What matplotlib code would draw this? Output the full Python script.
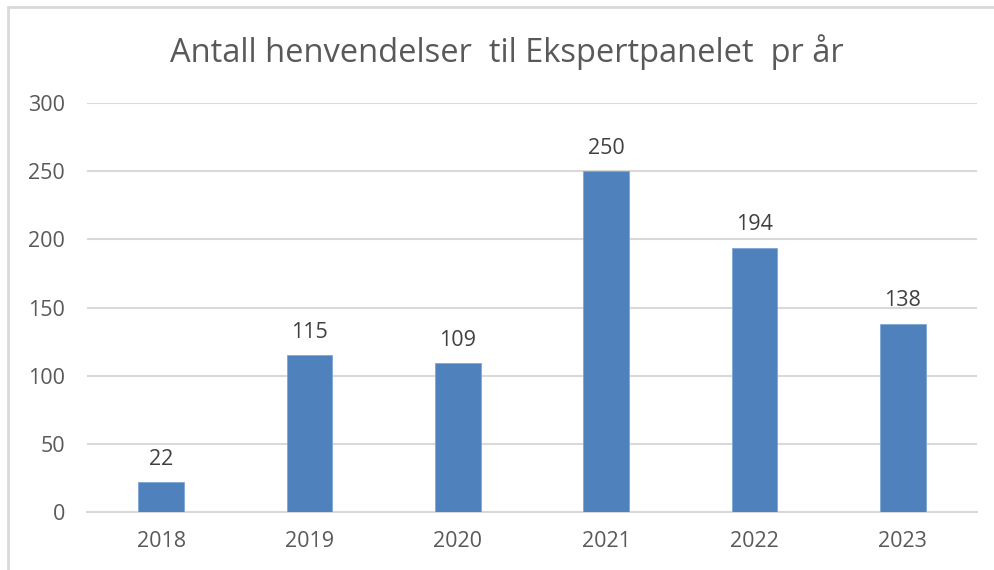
import matplotlib.pyplot as plt
from matplotlib.patches import Rectangle

years = ['2018', '2019', '2020', '2021', '2022', '2023']
counts = [22, 115, 109, 250, 194, 138]
y_ticks = [0, 50, 100, 150, 200, 250, 300]

plt.rcParams['font.family'] = ['Open Sans', 'DejaVu Sans']

fig = plt.figure(figsize=(9.95, 5.70), dpi=100)
# plot area in pixels: x 87..977, y 103..512
ax = fig.add_axes([87/995, 1 - 512/570, 890/995, 409/570])

x = range(len(years))
bars = ax.bar(x, counts, width=0.31, color='#4f81bd', edgecolor='#7ea6d8', linewidth=0.6, zorder=3)
ax.bar_label(bars, labels=[str(v) for v in counts], padding=9, fontsize=15.5, color='#404040')

ax.set_xlim(-0.5, len(years) - 0.5)
ax.set_ylim(0, 300)
ax.set_yticks(y_ticks)
ax.set_xticks(list(x))
ax.set_xticklabels(years)
ax.grid(axis='y', color='#d9d9d9', linewidth=1.5, zorder=0)
for s in ['top', 'right', 'left']:
    ax.spines[s].set_visible(False)
ax.spines['bottom'].set_color('#d9d9d9')
ax.spines['bottom'].set_linewidth(1.5)
ax.tick_params(axis='both', length=0, labelsize=15.5, labelcolor='#595959')
ax.tick_params(axis='y', pad=16)
ax.tick_params(axis='x', pad=14)

fig.text(507/995, 1 - 52/570, 'Antall henvendelser  til Ekspertpanelet  pr år',
         ha='center', va='center', fontsize=23.5, color='#595959')

# chart frame (runs off the right and bottom edge)
fig.patches.append(Rectangle((8/995, -0.1), 1.2, 1 - 7/570 + 0.1, transform=fig.transFigure,
                             fill=False, edgecolor='#d9d9d9', linewidth=2))

fig.savefig('out.png', dpi=100)
